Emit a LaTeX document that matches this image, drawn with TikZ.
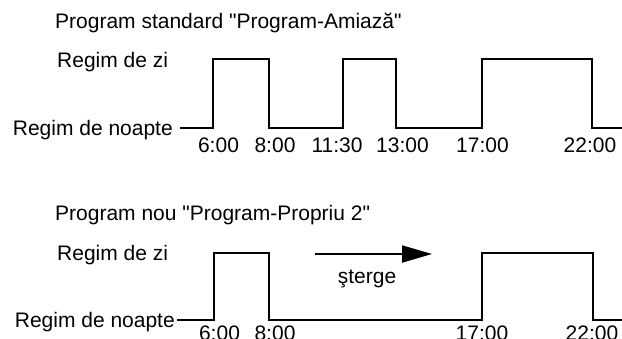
\documentclass[tikz,border=0pt]{standalone}
\usepackage{fontspec}
\setmainfont{Liberation Sans}[Ligatures=TeXOff]
\usetikzlibrary{arrows.meta}
\begin{document}
\begin{tikzpicture}[x=1pt,y=-1pt,
  lbl/.style={inner sep=0pt,font=\fontsize{21}{25}\selectfont},
  wave/.style={line width=2pt,line join=miter,line cap=butt}]
\useasboundingbox (0,0) rectangle (622,338);
% ---- top diagram
\node[lbl,anchor=base west] (t1) at (55,28) {Program standard "Program-Amiază"};
\node[lbl,anchor=base west] (zi1) at (57,67) {Regim de zi};
\node[lbl,anchor=base east] (np1) at (173,135) {Regim de noapte};
\draw[wave] (180,128) -- (213,128) -- (213,59) -- (269,59) -- (269,128)
  -- (343,128) -- (343,59) -- (396,59) -- (396,128) -- (482,128) -- (482,59)
  -- (592,59) -- (592,128) -- (622,128);
\node[lbl,anchor=base] (a1) at (218.5,152) {6:00};
\node[lbl,anchor=base] (a2) at (275,152) {8:00};
\node[lbl,anchor=base] (a3) at (337,152) {11:30};
\node[lbl,anchor=base] (a4) at (402.5,152) {13:00};
\node[lbl,anchor=base] (a5) at (482.5,152) {17:00};
\node[lbl,anchor=base] (a6) at (590,152) {22:00};
% ---- bottom diagram
\node[lbl,anchor=base west] (t2) at (55,220) {Program nou "Program-Propriu 2"};
\node[lbl,anchor=base west] (zi2) at (57,260) {Regim de zi};
\node[lbl,anchor=base east] (np2) at (175,327) {Regim de noapte};
\draw[wave] (177,320) -- (214,320) -- (214,253) -- (269,253) -- (269,320)
  -- (482,320) -- (482,253) -- (593,253) -- (593,320) -- (622,320);
\coordinate (as) at (315,254);
\coordinate (ae) at (432,254);
\draw[line width=2pt,-{Triangle[length=30pt,width=17pt]}] (as) -- (ae);
\node[lbl,anchor=base] (st) at (367,283) {şterge};
\node[lbl,anchor=base] (b1) at (219.5,340) {6:00};
\node[lbl,anchor=base] (b2) at (275,340) {8:00};
\node[lbl,anchor=base] (b5) at (482,340) {17:00};
\node[lbl,anchor=base] (b6) at (592,340) {22:00};
\end{tikzpicture}
\end{document}
